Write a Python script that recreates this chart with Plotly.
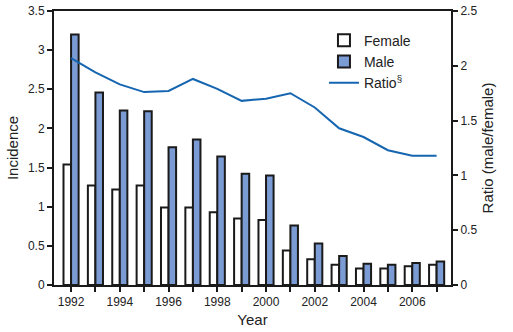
import plotly.graph_objects as go

years = list(range(1992, 2008))
female = [1.54, 1.27, 1.22, 1.27, 0.99, 0.99, 0.93, 0.85, 0.83, 0.44, 0.33, 0.26, 0.21, 0.21, 0.24, 0.26]
male = [3.20, 2.46, 2.23, 2.22, 1.76, 1.86, 1.64, 1.42, 1.40, 0.76, 0.53, 0.37, 0.27, 0.26, 0.28, 0.30]
ratio = [2.07, 1.94, 1.83, 1.76, 1.77, 1.88, 1.79, 1.68, 1.70, 1.75, 1.62, 1.43, 1.35, 1.23, 1.18, 1.18]
label_years = [y for y in years if y % 2 == 0]

FONT = "Liberation Sans, Arial, sans-serif"
fig = go.Figure()
fig.add_trace(go.Bar(x=years, y=female, name="Female",
                     marker=dict(color="white", line=dict(color="#1a1a1a", width=2))))
fig.add_trace(go.Bar(x=years, y=male, name="Male",
                     marker=dict(color="#7a9bd3", line=dict(color="#1a1a1a", width=2))))
fig.add_trace(go.Scatter(x=years, y=ratio, name="Ratio<sup>§</sup>", mode="lines",
                         line=dict(color="#1565b0", width=2), yaxis="y2"))

axis_common = dict(showline=True, linecolor="#1a1a1a", linewidth=2, ticks="outside",
                   tickcolor="#1a1a1a", tickwidth=2, ticklen=5, showgrid=False, zeroline=False,
                   automargin=False, tickfont=dict(size=12, color="#222"))
fig.update_layout(
    width=513, height=332,
    margin=dict(l=54, r=62, t=11, b=47, autoexpand=False),
    plot_bgcolor="white", paper_bgcolor="white",
    font=dict(family=FONT, color="#222"),
    barmode="group", bargap=0.38, bargroupgap=0,
    showlegend=True,
    legend=dict(x=0.68, y=0.95, xanchor="left", yanchor="top", bgcolor="rgba(0,0,0,0)",
                font=dict(size=14, color="#222"), tracegroupgap=0, itemwidth=30),
    xaxis=dict(range=[1991.3, 2007.59], tickmode="array", tickvals=label_years,
               minor=dict(tickmode="array", tickvals=years, ticks="outside", ticklen=5,
                          tickwidth=2, tickcolor="#1a1a1a", showgrid=False),
               mirror=True, title=dict(text="Year", font=dict(size=15), standoff=6),
               **axis_common),
    yaxis=dict(range=[0, 3.5], dtick=0.5, title=dict(text="Incidence", font=dict(size=15), standoff=6),
               **axis_common),
    yaxis2=dict(range=[0, 2.5], dtick=0.5, overlaying="y", side="right",
                title=dict(text="Ratio (male/female)", font=dict(size=15), standoff=6),
                **axis_common),
)
fig.write_html("out.html")
